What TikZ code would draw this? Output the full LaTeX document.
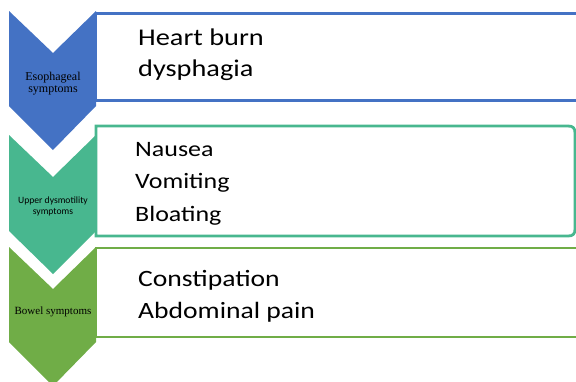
\documentclass[tikz,border=0pt]{standalone}
\usepackage{fontspec}
\setmainfont{Carlito}
\newfontfamily\bodyfont[FakeStretch=1.18]{Carlito}
\newfontfamily\smallcal{Carlito}
\newfontfamily\smallserif{Liberation Serif}
\definecolor{cblue}{HTML}{4472C4}
\definecolor{cgreen}{HTML}{48B78F}
\definecolor{colive}{HTML}{70AD47}
\tikzset{
  listbox/.style={line width=2.8pt, fill=white},
  itemtext/.style={anchor=base west, inner sep=0pt, font=\bodyfont\fontsize{#1}{#1}\selectfont},
  chevtext/.style={anchor=base, inner sep=0pt, text=black}
}
\begin{document}
\begin{tikzpicture}[x=1pt,y=-1pt]
\useasboundingbox (0,0) rectangle (576,381);
\clip (0,0) rectangle (576,381);
% chevrons
\fill[cblue] (9,11) -- (53,53) -- (96,11) -- (96,106) -- (53,150) -- (9,106) -- cycle;
\fill[cgreen] (9,135) -- (53,177) -- (96,135) -- (96,231) -- (53,274) -- (9,231) -- cycle;
\fill[colive] (9,247) -- (53,289) -- (96,247) -- (96,342) -- (53,386) -- (9,342) -- cycle;
% boxes
\draw[listbox, draw=cblue] (96,13.5) rectangle (600,100.5);
\draw[listbox, draw=cgreen] (96,126) -- (568,126) .. controls (573,126) and (575,128) .. (575,133)
   -- (575,229) .. controls (575,234) and (573,236) .. (568,236) -- (96,236) -- cycle;
\draw[listbox, draw=colive] (96,248) rectangle (600,337);
% chevron labels
\node[chevtext, font=\smallserif\fontsize{12}{12}\selectfont] (e1) at (53,80) {Esophageal};
\node[chevtext, font=\smallserif\fontsize{12}{12}\selectfont] (e2) at (53,92.3) {symptoms};
\node[chevtext, font=\smallcal\fontsize{9.6}{9.6}\selectfont] (u1) at (53,203.5) {Upper dysmotility};
\node[chevtext, font=\smallcal\fontsize{9.6}{9.6}\selectfont] (u2) at (53,214.5) {symptoms};
\node[chevtext, font=\smallserif\fontsize{11}{11}\selectfont] (b1) at (53,314.5) {Bowel symptoms};
% items
\node[itemtext=24] (t1) at (138,45.5) {Heart burn};
\node[itemtext=24] (t2) at (138,76.5) {dysphagia};
\node[itemtext=22] (t3) at (135,156.5) {Nausea};
\node[itemtext=22] (t4) at (135,188.5) {Vomiting};
\node[itemtext=22] (t5) at (135,221) {Bloating};
\node[itemtext=23.4] (t6) at (138,286.5) {Constipation};
\node[itemtext=23.4] (t7) at (138,318) {Abdominal pain};
\end{tikzpicture}
\end{document}
